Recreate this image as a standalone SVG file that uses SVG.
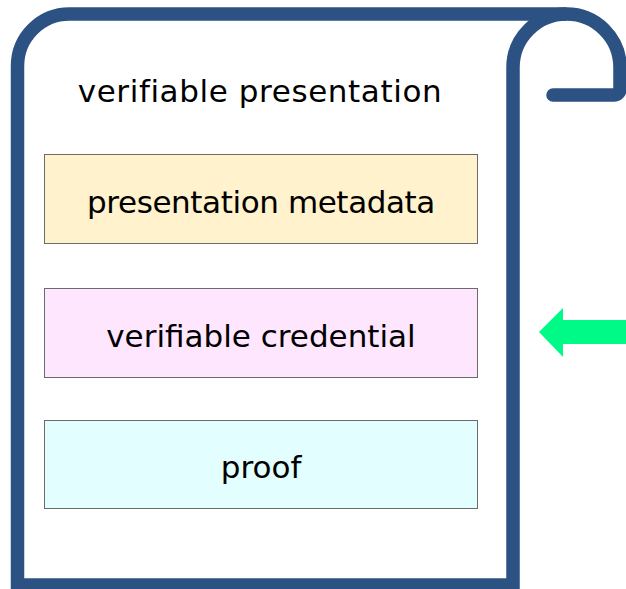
<svg xmlns="http://www.w3.org/2000/svg" width="626" height="589" viewBox="0 0 626 589">
<style>
.scroll{fill:none;stroke:#2c5283;stroke-width:13.5;stroke-linecap:round;stroke-linejoin:round}
.box{stroke:#6b6b6b;stroke-width:1}
.t{font-family:"DejaVu Sans","Open Sans",sans-serif;font-size:31px;fill:#000;text-anchor:middle}
</style>
<rect width="626" height="589" fill="#fff"/>
<g id="scroll">
<path class="scroll" d="M17.5,592 L17.5,66 A52,52 0 0 1 69.5,14 L566.5,14 A53.5,53.5 0 0 1 620,67.5 L620,89 A6,6 0 0 1 614,95 L553,95"/>
<path class="scroll" d="M513,592 L513,67.5 A53.5,53.5 0 0 1 566.5,14" style="stroke-linecap:butt"/>
<path class="scroll" d="M17.5,585 L513,585" style="stroke-linecap:butt"/>
<text class="t" x="260" y="102" letter-spacing="0.6">verifiable presentation</text>
</g>
<g id="metadata">
<rect class="box" x="44.5" y="154.5" width="433" height="89" fill="#fff2cc"/>
<text class="t" x="261" y="213" letter-spacing="-0.4">presentation metadata</text>
</g>
<g id="credential">
<rect class="box" x="44.5" y="288.5" width="433" height="89" fill="#ffe6ff"/>
<text class="t" x="261" y="347">verifiable credential</text>
</g>
<g id="proof">
<rect class="box" x="44.5" y="420.5" width="433" height="88" fill="#e3fefe"/>
<text class="t" x="261" y="478">proof</text>
</g>
<g id="connectors">
<polygon points="539,332 563,308 563,320 626,320 626,344 563,344 563,357" fill="#00fa88"/>
</g>
</svg>
